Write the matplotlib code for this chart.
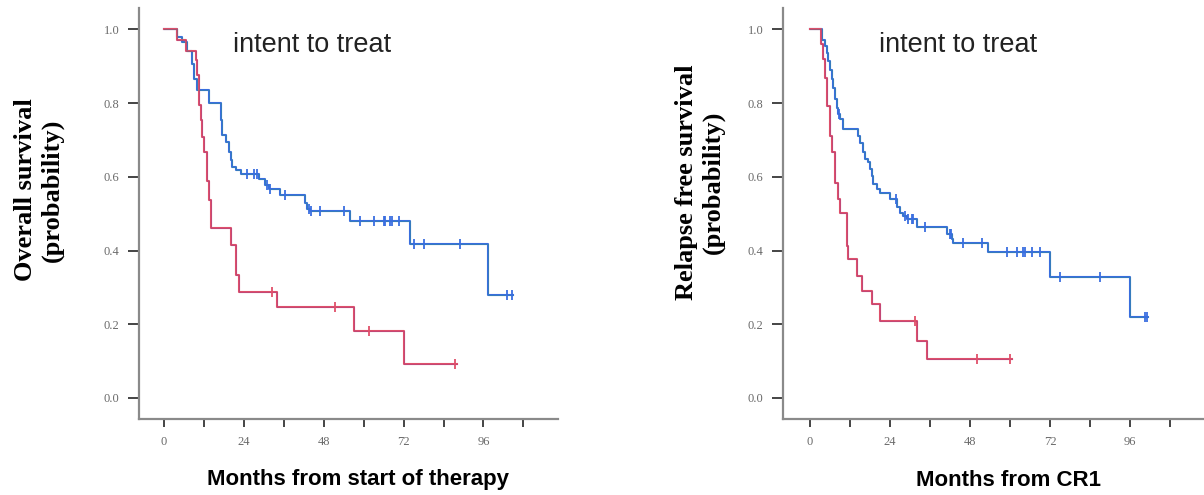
import numpy as np
import matplotlib
matplotlib.use("Agg")
import matplotlib.pyplot as plt

# ---- Kaplan-Meier step data (months, survival probability) ----
# Overall survival, intent to treat
os_a_t = [0, 4.0, 5.5, 7.0, 8.5, 9.0, 10.0, 13.5, 17.0, 17.5, 18.5, 19.5, 20.0,
          20.5, 21.5, 23.0, 28.5, 30.5, 31.5, 35.0, 42.5, 43.0, 44.0, 56.0,
          74.0, 97.5]
os_a_s = [1.0, 0.98, 0.966, 0.94, 0.907, 0.866, 0.835, 0.80, 0.753, 0.713,
          0.695, 0.668, 0.645, 0.627, 0.618, 0.609, 0.595, 0.577, 0.568, 0.55,
          0.528, 0.514, 0.507, 0.48, 0.419, 0.279]
os_a_end = 105.0
os_a_cens = [25, 27, 28, 31, 31.8, 36.5, 43.5, 44.2, 47, 54, 59, 63, 66, 66.5,
             68, 68.5, 70.5, 75, 78, 89, 103, 104.5]

os_b_t = [0, 4.0, 6.5, 9.5, 10.0, 10.5, 11.0, 11.5, 12.0, 13.0, 13.5, 14.0,
          20.0, 21.5, 22.5, 34.0, 57.0, 72.0]
os_b_s = [1.0, 0.97, 0.94, 0.916, 0.875, 0.794, 0.753, 0.708, 0.668, 0.59,
          0.537, 0.46, 0.415, 0.333, 0.288, 0.246, 0.182, 0.091]
os_b_end = 88.0
os_b_cens = [32.5, 51.5, 61.5, 87.5]

# Relapse free survival from CR1
rfs_a_t = [0, 3.5, 4.5, 5.0, 5.5, 6.0, 6.5, 7.0, 7.5, 8.0, 8.5, 9.0, 10.0,
           14.5, 15.0, 16.0, 16.5, 17.5, 18.0, 18.5, 19.0, 20.0, 21.0, 24.0,
           26.0, 27.0, 28.0, 29.0, 32.0, 41.0, 42.5, 43.0, 53.5, 72.0, 96.0]
rfs_a_s = [1.0, 0.97, 0.955, 0.937, 0.914, 0.891, 0.865, 0.842, 0.81, 0.788,
           0.77, 0.756, 0.729, 0.711, 0.693, 0.666, 0.648, 0.639, 0.62, 0.603,
           0.58, 0.566, 0.557, 0.539, 0.517, 0.503, 0.494, 0.485, 0.463,
           0.444, 0.431, 0.42, 0.395, 0.327, 0.219]
rfs_a_end = 101.5
rfs_a_cens = [8.8, 25.8, 28.5, 29.5, 30.5, 31.0, 34.5, 42.0, 42.3, 46.0, 51.5,
              59.0, 62.0, 64.0, 64.5, 66.5, 69.0, 75.0, 87.0, 100.5, 101.0]

rfs_b_t = [0, 3.2, 3.8, 4.5, 5.0, 6.0, 6.5, 7.5, 8.5, 9.0, 11.0, 11.5, 14.0,
           15.5, 18.5, 21.0, 32.0, 35.0]
rfs_b_s = [1.0, 0.96, 0.919, 0.869, 0.792, 0.711, 0.666, 0.584, 0.539, 0.503,
           0.413, 0.377, 0.332, 0.291, 0.255, 0.21, 0.155, 0.106]
rfs_b_end = 60.5
rfs_b_cens = [31.5, 50.0, 60.0]

x_ticks = list(range(0, 109, 12))
y_ticks = [0.0, 0.2, 0.4, 0.6, 0.8, 1.0]

BLUE, GREEN = "#3a6ee0", "#2f9a6e"
RED, PURPLE = "#e0506a", "#80358f"

W, H = 1204, 495
fig = plt.figure(figsize=(W / 100, H / 100), dpi=100)
fig.patch.set_facecolor("white")


def km(ax, t, s, end, cens, color, overlay):
    tt = list(t) + [end]
    ss = list(s) + [s[-1]]
    ax.step(tt, ss, where="post", color=color, lw=1.5, zorder=3)
    ax.step(tt, ss, where="post", color=overlay, lw=0.8, alpha=0.3, zorder=4)
    idx = np.searchsorted(t, cens, side="right") - 1
    cy = np.asarray(s)[idx]
    ax.plot(cens, cy, ls="none", marker="|", ms=7, mew=1.3, color=color,
            zorder=5)


def setup(ax, xlim):
    ax.set_xlim(*xlim)
    ax.set_ylim(-0.057, 1.058)
    for side in ("top", "right"):
        ax.spines[side].set_visible(False)
    for side in ("left", "bottom"):
        ax.spines[side].set_color("#8a8a8a")
        ax.spines[side].set_linewidth(1.6)
    ax.set_xticks(x_ticks)
    ax.set_xticklabels([str(v) if v % 24 == 0 else "" for v in x_ticks])
    ax.set_yticks(y_ticks)
    ax.set_yticklabels([f"{v:.1f}" for v in y_ticks])
    ax.tick_params(axis="x", direction="out", length=6, width=1.4,
                   color="#444444", pad=6)
    ax.tick_params(axis="y", direction="out", length=8, width=1.4,
                   color="#444444", pad=6)
    for lab in ax.get_xticklabels() + ax.get_yticklabels():
        lab.set_family("Liberation Serif")
        lab.set_fontsize(9)
        lab.set_color("#6a6a6a")
    ax.text(44.5, 0.958, "intent to treat", ha="center", va="center",
            family="Liberation Sans", fontsize=19.5, color="#222222")


def px_axes(x0, x1, y_top, y_bot):
    return fig.add_axes([x0 / W, 1 - y_bot / H, (x1 - x0) / W,
                         (y_bot - y_top) / H])


# left panel: overall survival
ax1 = px_axes(139, 558, 8, 419)
setup(ax1, (-7.5, 118.4))
km(ax1, os_a_t, os_a_s, os_a_end, os_a_cens, BLUE, GREEN)
km(ax1, os_b_t, os_b_s, os_b_end, os_b_cens, RED, PURPLE)
fig.text(39 / W, 1 - 190 / H, "Overall survival\n(probability)",
         rotation=90, ha="center", va="center", family="Liberation Serif",
         fontweight="bold", fontsize=19, linespacing=1.2)
fig.text(358 / W, 1 - 480 / H, "Months from start of therapy",
         ha="center", va="center", family="Liberation Sans",
         fontweight="bold", fontsize=16)

# right panel: relapse free survival
ax2 = px_axes(783, 1204, 8, 419)
setup(ax2, (-8.1, 118.2))
km(ax2, rfs_a_t, rfs_a_s, rfs_a_end, rfs_a_cens, BLUE, GREEN)
km(ax2, rfs_b_t, rfs_b_s, rfs_b_end, rfs_b_cens, RED, PURPLE)
fig.text(700 / W, 1 - 182 / H, "Relapse free survival\n(probability)",
         rotation=90, ha="center", va="center", family="Liberation Serif",
         fontweight="bold", fontsize=19, linespacing=1.2)
fig.text(1008 / W, 1 - 480 / H, "Months from CR1",
         ha="center", va="center", family="Liberation Sans",
         fontweight="bold", fontsize=16)

fig.savefig("out.png", dpi=100)
